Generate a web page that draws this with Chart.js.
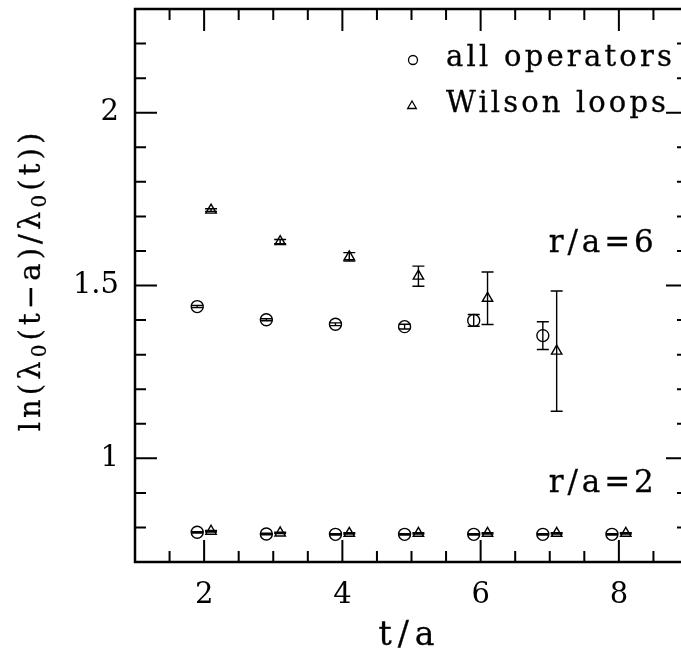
<!DOCTYPE html>
<html>
<head>
<meta charset="utf-8">
<script src="https://cdn.jsdelivr.net/npm/chart.js@4.4.0/dist/chart.umd.min.js"></script>
<style>
html, body { margin: 0; padding: 0; background: #fff; overflow: hidden; }
#wrap { width: 700px; height: 652px; }
</style>
</head>
<body>
<div id="wrap"><canvas id="chart" width="700" height="652"></canvas></div>
<script>
// r/a = 6
var tAll6 = [1.9, 2.9, 3.9, 4.9, 5.9, 6.9];
var all6 = [1.439, 1.401, 1.388, 1.381, 1.399, 1.355];
var all6Err = [0.003, 0.003, 0.004, 0.007, 0.017, 0.040];
var tWil6 = [2.1, 3.1, 4.1, 5.1, 6.1, 7.1];
var wil6 = [1.718, 1.627, 1.583, 1.527, 1.463, 1.310];
var wil6Err = [0.004, 0.006, 0.012, 0.029, 0.076, 0.174];

// r/a = 2
var tAll2 = [1.9, 2.9, 3.9, 4.9, 5.9, 6.9, 7.9];
var all2 = [0.786, 0.781, 0.780, 0.780, 0.780, 0.780, 0.780];
var all2Err = [0.002, 0.002, 0.002, 0.002, 0.002, 0.002, 0.002];
var tWil2 = [2.1, 3.1, 4.1, 5.1, 6.1, 7.1, 8.1];
var wil2 = [0.789, 0.784, 0.783, 0.783, 0.783, 0.783, 0.783];
var wil2Err = [0.002, 0.002, 0.002, 0.002, 0.002, 0.002, 0.002];

var xTickLabels = [2, 4, 6, 8];
var yTickLabels = [1, 1.5, 2];

var SERIF = '"DejaVu Serif", serif';

function pts(xs, ys) {
    return xs.map(function(x, i) { return { x: x, y: ys[i] }; });
}

function makeSet(xs, ys, errs, style) {
    return {
        data: pts(xs, ys),
        errors: errs,
        pointStyle: style,
        pointRadius: 6,
        pointBorderWidth: 1.4,
        borderColor: '#000',
        backgroundColor: 'rgba(0,0,0,0)',
        showLine: false
    };
}

// spacing that makes the string roughly `width` px wide (typewriter look)
function spacingFor(ctx, str, size, width) {
    ctx.save();
    ctx.font = size + 'px ' + SERIF;
    ctx.letterSpacing = '0px';
    var w = ctx.measureText(str).width;
    ctx.restore();
    return (width - w) / Math.max(1, str.length - 1);
}

function drawText(ctx, str, x, y, size, spacing, align) {
    ctx.save();
    ctx.font = size + 'px ' + SERIF;
    ctx.letterSpacing = spacing + 'px';
    ctx.textAlign = align || 'left';
    ctx.textBaseline = 'alphabetic';
    ctx.fillStyle = '#000';
    ctx.strokeStyle = '#000';
    ctx.lineWidth = 0.3;
    ctx.fillText(str, x, y);
    ctx.strokeText(str, x, y);
    ctx.restore();
}

function fitText(ctx, str, x, y, size, width, align) {
    drawText(ctx, str, x, y, size, spacingFor(ctx, str, size, width), align);
}

// error bars, legend and labels
var extrasPlugin = {
    id: 'extras',
    afterDatasetsDraw: function(chart) {
        var ctx = chart.ctx;
        var xs = chart.scales.x, ys = chart.scales.y;
        ctx.save();
        ctx.strokeStyle = '#000';
        ctx.lineWidth = 1.4;
        chart.data.datasets.forEach(function(ds) {
            ds.data.forEach(function(p, i) {
                var e = ds.errors[i];
                var px = xs.getPixelForValue(p.x);
                var top = ys.getPixelForValue(p.y + e);
                var bot = ys.getPixelForValue(p.y - e);
                ctx.beginPath();
                ctx.moveTo(px, top); ctx.lineTo(px, bot);
                ctx.moveTo(px - 6, top); ctx.lineTo(px + 6, top);
                ctx.moveTo(px - 6, bot); ctx.lineTo(px + 6, bot);
                ctx.stroke();
            });
        });
        ctx.restore();
    },
    afterDraw: function(chart) {
        var ctx = chart.ctx;
        var a = chart.chartArea;
        var xs = chart.scales.x, ys = chart.scales.y;

        // frame
        ctx.save();
        ctx.strokeStyle = '#000';
        ctx.lineWidth = 2.5;
        ctx.strokeRect(a.left, a.top, a.right - a.left, a.bottom - a.top);

        // inward ticks on all four sides
        ctx.lineWidth = 2;
        ctx.beginPath();
        for (var i = 2; i <= 18; i++) {
            var v = i / 2;
            var len = (i % 4 === 0) ? 22 : 11;
            var px = xs.getPixelForValue(v);
            ctx.moveTo(px, a.bottom); ctx.lineTo(px, a.bottom - len);
            ctx.moveTo(px, a.top); ctx.lineTo(px, a.top + len);
        }
        for (var j = 7; j <= 23; j++) {
            var yv = j / 10;
            var ylen = (j % 5 === 0) ? 22 : 11;
            var py = ys.getPixelForValue(yv);
            ctx.moveTo(a.left, py); ctx.lineTo(a.left + ylen, py);
            ctx.moveTo(a.right, py); ctx.lineTo(a.right - ylen, py);
        }
        ctx.stroke();
        ctx.restore();

        // legend
        var h = Chart.helpers;
        ctx.save();
        ctx.strokeStyle = '#000';
        ctx.fillStyle = 'rgba(0,0,0,0)';
        ctx.lineWidth = 1.3;
        h.drawPoint(ctx, { pointStyle: 'circle', radius: 4.5, borderWidth: 1.3 }, 413, 60);
        h.drawPoint(ctx, { pointStyle: 'triangle', radius: 5, borderWidth: 1.3 }, 412, 106);
        ctx.restore();
        fitText(ctx, 'all operators', 446, 66, 29, 226);
        fitText(ctx, 'Wilson loops', 446, 112, 29, 220);

        // region labels
        var lx = xs.getPixelForValue(7.0) - 1;
        fitText(ctx, 'r/a=6', lx, ys.getPixelForValue(1.597), 31, 105);
        fitText(ctx, 'r/a=2', lx, ys.getPixelForValue(0.902), 31, 105);

        // axis titles
        fitText(ctx, 't/a', (a.left + a.right) / 2 - 2, 645, 33, 56, 'center');

        ctx.save();
        ctx.translate(40, 280);
        ctx.rotate(-Math.PI / 2);
        var parts = [
            { s: 'ln(λ', sub: false }, { s: '0', sub: true },
            { s: '(t−a)/λ', sub: false }, { s: '0', sub: true },
            { s: '(t))', sub: false }
        ];
        var sp = spacingFor(ctx, 'ln(λ0(t−a)/λ0(t))', 29, 310);
        var total = 0;
        parts.forEach(function(p) {
            p.size = p.sub ? 20 : 29;
            ctx.font = p.size + 'px ' + SERIF;
            ctx.letterSpacing = sp + 'px';
            p.w = ctx.measureText(p.s).width;
            total += p.w;
        });
        var cx = -total / 2;
        parts.forEach(function(p) {
            drawText(ctx, p.s, cx, p.sub ? 6 : 0, p.size, sp);
            cx += p.w;
        });
        ctx.restore();
    }
};

var datasets = [
    makeSet(tAll6, all6, all6Err, 'circle'),
    makeSet(tWil6, wil6, wil6Err, 'triangle'),
    makeSet(tAll2, all2, all2Err, 'circle'),
    makeSet(tWil2, wil2, wil2Err, 'triangle')
];

new Chart(document.getElementById('chart').getContext('2d'), {
    type: 'scatter',
    data: { datasets: datasets },
    plugins: [extrasPlugin],
    options: {
        responsive: false,
        animation: false,
        events: [],
        layout: { padding: { left: 0, top: 9, right: 12, bottom: 0 } },
        plugins: { legend: { display: false }, tooltip: { enabled: false } },
        scales: {
            x: {
                type: 'linear',
                min: 1,
                max: 9,
                grid: { display: false, drawTicks: false },
                border: { display: false },
                afterFit: function(s) { s.height = 90; s.paddingLeft = 0; s.paddingRight = 0; },
                ticks: {
                    stepSize: 1,
                    autoSkip: false,
                    maxRotation: 0,
                    padding: 16,
                    color: '#000',
                    font: { family: SERIF, size: 29 },
                    callback: function(v) {
                        return xTickLabels.indexOf(v) >= 0 ? String(v) : '';
                    }
                }
            },
            y: {
                type: 'linear',
                min: 0.7,
                max: 2.3,
                grid: { display: false, drawTicks: false },
                border: { display: false },
                afterFit: function(s) { s.width = 135; s.paddingTop = 0; s.paddingBottom = 0; },
                ticks: {
                    stepSize: 0.5,
                    autoSkip: false,
                    padding: 16,
                    color: '#000',
                    font: { family: SERIF, size: 29 },
                    callback: function(v) {
                        var hit = yTickLabels.filter(function(t) { return Math.abs(t - v) < 1e-6; });
                        return hit.length ? String(hit[0]) : '';
                    }
                }
            }
        }
    }
});
</script>
</body>
</html>
